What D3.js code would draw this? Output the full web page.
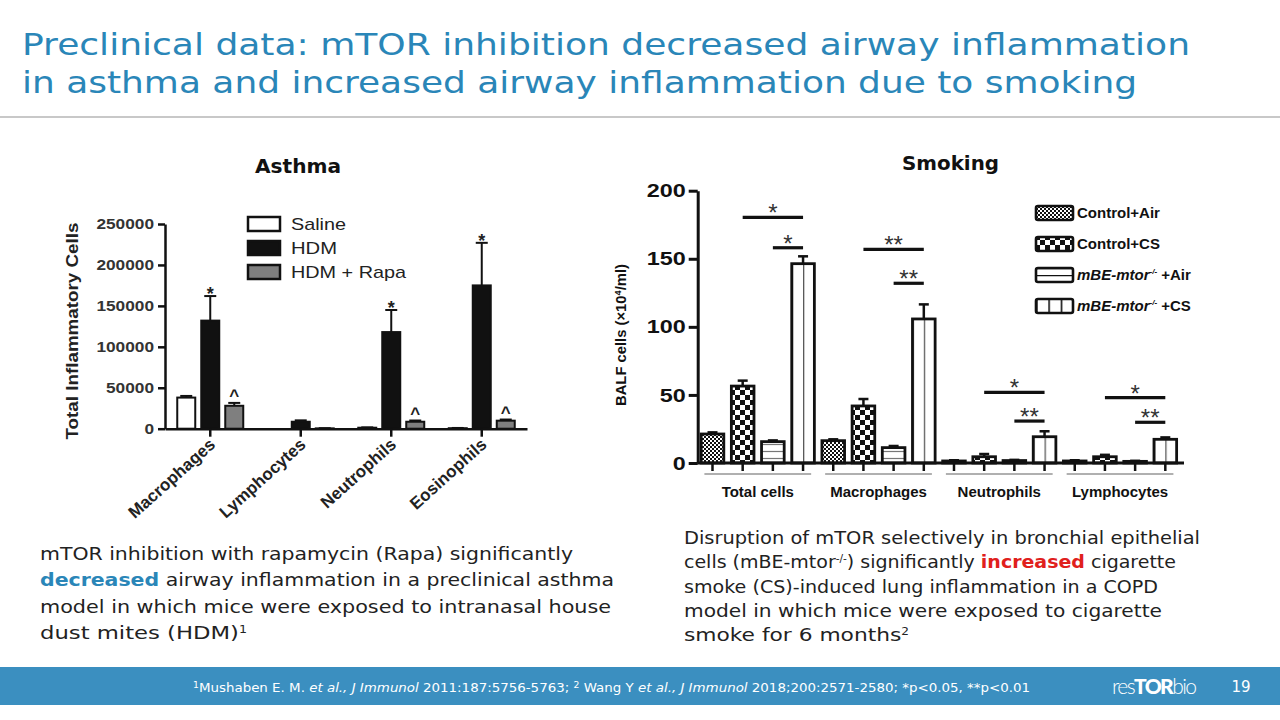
<!DOCTYPE html>
<html><head><meta charset="utf-8">
<script src="https://cdn.jsdelivr.net/npm/d3@7"></script>
<style>body{margin:0;background:#fff}svg{display:block}</style>
</head><body>
<svg id="c" width="1280" height="720"></svg>
<script>
// ---------- DATA ----------
// Asthma chart (left)
const asthmaCategories = ["Macrophages", "Lymphocytes", "Neutrophils", "Eosinophils"];
const asthmaGroups = ["Saline", "HDM", "HDM + Rapa"];
const asthmaSaline = [38000, 0, 1200, 600];
const asthmaSalineErr = [40000, 0, 1600, 900];
const asthmaHDM = [132000, 8500, 118000, 175000];
const asthmaHDMErr = [162000, 10200, 145000, 227000];
const asthmaRapa = [28000, 400, 8500, 9800];
const asthmaRapaErr = [31500, 600, 10000, 11200];
const asthmaYTicks = [0, 50000, 100000, 150000, 200000, 250000];
const asthmaStars = ["Macrophages", "Neutrophils", "Eosinophils"];   // "*" on HDM
const asthmaCarets = ["Macrophages", "Neutrophils", "Eosinophils"];  // "^" on HDM + Rapa

// Smoking chart (right)
const smokeCategories = ["Total cells", "Macrophages", "Neutrophils", "Lymphocytes"];
const smokeGroups = ["Control+Air", "Control+CS", "mBE-mtor-/- +Air", "mBE-mtor-/- +CS"];
const ctrlAir = [21.3, 16.4, 1.5, 1.5];
const ctrlAirErr = [22.5, 17.4, 2.0, 2.0];
const ctrlCS = [56.5, 41.9, 4.6, 4.6];
const ctrlCSErr = [60.5, 47.0, 6.6, 6.0];
const mbeAir = [15.7, 11.3, 1.8, 1.2];
const mbeAirErr = [16.6, 12.5, 2.3, 1.6];
const mbeCS = [146.4, 105.8, 19.3, 17.4];
const mbeCSErr = [151.8, 116.5, 23.3, 18.8];
const smokeYTicks = [0, 50, 100, 150, 200];
const sigCats = ["Total cells", "Total cells", "Macrophages", "Macrophages", "Neutrophils", "Neutrophils", "Lymphocytes", "Lymphocytes"];
const sigFrom = ["Control+CS", "mBE-mtor-/- +Air", "Control+CS", "mBE-mtor-/- +Air", "Control+CS", "mBE-mtor-/- +Air", "Control+CS", "mBE-mtor-/- +Air"];
const sigTo = ["mBE-mtor-/- +CS", "mBE-mtor-/- +CS", "mBE-mtor-/- +CS", "mBE-mtor-/- +CS", "mBE-mtor-/- +CS", "mBE-mtor-/- +CS", "mBE-mtor-/- +CS", "mBE-mtor-/- +CS"];
const sigLevel = [180.4, 158.1, 156.9, 132.0, 51.9, 30.8, 48.0, 29.9];
const sigLabel = ["*", "*", "**", "**", "*", "**", "*", "**"];

// ---------- DRAW ----------
const svg = d3.select("#c");
const SLIDE = "'DejaVu Sans', 'Open Sans', sans-serif";
const CHART = "'Liberation Sans', Arial, sans-serif";
const BLUE = "#2a86b8";

// patterns
const defs = svg.append("defs");
function pat(id, w, h, units) {
  return defs.append("pattern").attr("id", id).attr("width", w).attr("height", h)
    .attr("patternUnits", units || "userSpaceOnUse");
}
let p = pat("pFine", 4, 4);
p.append("rect").attr("width", 4).attr("height", 4).attr("fill", "#fff");
p.append("rect").attr("width", 2).attr("height", 2).attr("fill", "#111");
p.append("rect").attr("x", 2).attr("y", 2).attr("width", 2).attr("height", 2).attr("fill", "#111");
p = pat("pCheck", 10, 10);
p.append("rect").attr("width", 10).attr("height", 10).attr("fill", "#fff");
p.append("rect").attr("width", 5).attr("height", 5).attr("fill", "#111");
p.append("rect").attr("x", 5).attr("y", 5).attr("width", 5).attr("height", 5).attr("fill", "#111");
p = pat("pH", 10, 7);
p.append("rect").attr("width", 10).attr("height", 7).attr("fill", "#fff");
p.append("line").attr("x1", 0).attr("x2", 10).attr("y1", 3.5).attr("y2", 3.5).attr("stroke", "#777").attr("stroke-width", 1.2);
p = pat("pV", 0.5, 1, "objectBoundingBox");
p.append("rect").attr("width", 200).attr("height", 1000).attr("fill", "#fff");
p.append("line").attr("x1", 0.6).attr("x2", 0.6).attr("y1", 0).attr("y2", 1000).attr("stroke", "#555").attr("stroke-width", 1.3);
p = pat("pVLeg", 1 / 3, 1, "objectBoundingBox");
p.append("rect").attr("width", 200).attr("height", 1000).attr("fill", "#fff");
p.append("line").attr("x1", 0.6).attr("x2", 0.6).attr("y1", 0).attr("y2", 1000).attr("stroke", "#111").attr("stroke-width", 2);
p = pat("pHLeg", 1, 0.5, "objectBoundingBox");
p.append("rect").attr("width", 200).attr("height", 1000).attr("fill", "#fff");
p.append("line").attr("x1", 0).attr("x2", 200).attr("y1", 0.6).attr("y2", 0.6).attr("stroke", "#111").attr("stroke-width", 1.5);

// title
const titleLines = ["Preclinical data: mTOR inhibition decreased airway inflammation",
  "in asthma and increased airway inflammation due to smoking"];
const titleWidths = [1168, 1115];
titleLines.forEach((t, i) => {
  svg.append("text").attr("x", 22).attr("y", 55 + i * 38).attr("font-family", SLIDE)
    .attr("font-size", 31).attr("fill", BLUE).attr("textLength", titleWidths[i])
    .attr("lengthAdjust", "spacingAndGlyphs").text(t);
});
svg.append("line").attr("x1", 0).attr("x2", 1280).attr("y1", 117).attr("y2", 117)
  .attr("stroke", "#c8c8c8").attr("stroke-width", 2);

// section headers
svg.append("text").attr("x", 255).attr("y", 173).attr("font-family", SLIDE).attr("font-weight", 700)
  .attr("font-size", 20).attr("fill", "#111").attr("textLength", 86).attr("lengthAdjust", "spacingAndGlyphs").text("Asthma");
svg.append("text").attr("x", 902).attr("y", 170).attr("font-family", SLIDE).attr("font-weight", 700)
  .attr("font-size", 20).attr("fill", "#111").attr("textLength", 97).attr("lengthAdjust", "spacingAndGlyphs").text("Smoking");

// ---------- LEFT CHART ----------
const lg = svg.append("g");
const ly = d3.scaleLinear().domain([0, 250000]).range([428.7, 224]);
const lx0 = d3.scaleBand().domain(asthmaCategories).range([165, 527]).padding(0);
const lx1 = d3.scaleBand().domain(asthmaGroups)
  .range([lx0.bandwidth() / 2 - 36, lx0.bandwidth() / 2 + 36]).paddingInner(0.25).paddingOuter(0.125);
const asthmaFill = {"Saline": "#fff", "HDM": "#111", "HDM + Rapa": "#7f7f7f"};
const asthmaSeries = [
  {key: "Saline", v: asthmaSaline, e: asthmaSalineErr},
  {key: "HDM", v: asthmaHDM, e: asthmaHDMErr},
  {key: "HDM + Rapa", v: asthmaRapa, e: asthmaRapaErr}];

asthmaSeries.forEach(s => {
  asthmaCategories.forEach((c, i) => {
    const x = lx0(c) + lx1(s.key), w = lx1.bandwidth(), cx = x + w / 2;
    if (s.e[i] > s.v[i]) {
      lg.append("line").attr("x1", cx).attr("x2", cx).attr("y1", ly(s.v[i])).attr("y2", ly(s.e[i]))
        .attr("stroke", "#111").attr("stroke-width", 2);
      lg.append("line").attr("x1", cx - 6).attr("x2", cx + 6).attr("y1", ly(s.e[i])).attr("y2", ly(s.e[i]))
        .attr("stroke", "#111").attr("stroke-width", 2);
    }
    if (s.v[i] > 0) {
      lg.append("rect").attr("x", x).attr("y", ly(s.v[i])).attr("width", w)
        .attr("height", ly(0) - ly(s.v[i])).attr("fill", asthmaFill[s.key])
        .attr("stroke", "#111").attr("stroke-width", 2);
    }
  });
});
asthmaStars.forEach(c => {
  const i = asthmaCategories.indexOf(c);
  lg.append("text").attr("x", lx0(c) + lx1("HDM") + lx1.bandwidth() / 2).attr("y", ly(asthmaHDMErr[i]) + 4)
    .attr("text-anchor", "middle").attr("font-family", CHART).attr("font-weight", 700).attr("font-size", 18)
    .attr("fill", "#222").text("*");
});
asthmaCarets.forEach(c => {
  const i = asthmaCategories.indexOf(c);
  lg.append("text").attr("x", lx0(c) + lx1("HDM + Rapa") + lx1.bandwidth() / 2).attr("y", ly(asthmaRapaErr[i]) - 2)
    .attr("text-anchor", "middle").attr("font-family", CHART).attr("font-weight", 700).attr("font-size", 17)
    .attr("fill", "#222").text("^");
});

const lYAxis = lg.append("g").attr("transform", "translate(165,0)")
  .call(d3.axisLeft(ly).tickValues(asthmaYTicks).tickSize(7).tickSizeOuter(0).tickFormat(d3.format("d")));
lYAxis.select(".domain").attr("stroke", "#111").attr("stroke-width", 2.5);
lYAxis.selectAll(".tick line").attr("stroke", "#111").attr("stroke-width", 2.5);
lYAxis.selectAll(".tick text").attr("x", -11).attr("font-family", CHART).attr("font-weight", 700)
  .attr("font-size", 15).attr("fill", "#333")
  .each(function () { const t = d3.select(this); t.attr("textLength", t.text().length * 9.6).attr("lengthAdjust", "spacingAndGlyphs"); });

const lXAxis = lg.append("g").attr("transform", "translate(0,428.7)")
  .call(d3.axisBottom(lx0).tickSize(8).tickSizeOuter(0).tickFormat(""));
lXAxis.select(".domain").attr("stroke", "#111").attr("stroke-width", 2.5);
lXAxis.selectAll(".tick line").attr("stroke", "#111").attr("stroke-width", 2.5);
asthmaCategories.forEach(c => {
  const cx = lx0(c) + lx0.bandwidth() / 2;
  lg.append("text").attr("transform", `translate(${cx + 6},${446}) rotate(-42)`).attr("text-anchor", "end")
    .attr("font-family", CHART).attr("font-weight", 700).attr("font-size", 17).attr("fill", "#222").text(c);
});
lg.append("text").attr("transform", "translate(78,331) rotate(-90)").attr("text-anchor", "middle")
  .attr("font-family", CHART).attr("font-weight", 700).attr("font-size", 17).attr("fill", "#222")
  .attr("textLength", 217).attr("lengthAdjust", "spacingAndGlyphs").text("Total Inflammatory Cells");

// left legend
const lLegW = [55, 46, 115];
asthmaGroups.forEach((g, i) => {
  const y = 217 + i * 24;
  lg.append("rect").attr("x", 248).attr("y", y).attr("width", 32).attr("height", 14)
    .attr("fill", asthmaFill[g]).attr("stroke", "#111").attr("stroke-width", 2.5);
  lg.append("text").attr("x", 291).attr("y", y + 13).attr("font-family", CHART).attr("font-size", 17)
    .attr("fill", "#222").attr("textLength", lLegW[i]).attr("lengthAdjust", "spacingAndGlyphs").text(g);
});

// ---------- RIGHT CHART ----------
const rg = svg.append("g");
const ry = d3.scaleLinear().domain([0, 200]).range([463, 190.7]);
const rx0 = d3.scaleBand().domain(smokeCategories).range([697.4, 1180.4]).padding(0);
const rx1 = d3.scaleBand().domain(smokeGroups).range([0, rx0.bandwidth()]).paddingInner(0.25).paddingOuter(0.125);
const smokeFill = {"Control+Air": "url(#pFine)", "Control+CS": "url(#pCheck)",
  "mBE-mtor-/- +Air": "url(#pH)", "mBE-mtor-/- +CS": "url(#pV)"};
const smokeLegFill = {"Control+Air": "url(#pFine)", "Control+CS": "url(#pCheck)",
  "mBE-mtor-/- +Air": "url(#pHLeg)", "mBE-mtor-/- +CS": "url(#pVLeg)"};
const smokeSeries = [
  {key: smokeGroups[0], v: ctrlAir, e: ctrlAirErr},
  {key: smokeGroups[1], v: ctrlCS, e: ctrlCSErr},
  {key: smokeGroups[2], v: mbeAir, e: mbeAirErr},
  {key: smokeGroups[3], v: mbeCS, e: mbeCSErr}];

smokeSeries.forEach(s => {
  smokeCategories.forEach((c, i) => {
    const x = rx0(c) + rx1(s.key), w = rx1.bandwidth(), cx = x + w / 2;
    rg.append("line").attr("x1", cx).attr("x2", cx).attr("y1", ry(s.v[i])).attr("y2", ry(s.e[i]))
      .attr("stroke", "#111").attr("stroke-width", 2.5);
    rg.append("line").attr("x1", cx - 5).attr("x2", cx + 5).attr("y1", ry(s.e[i])).attr("y2", ry(s.e[i]))
      .attr("stroke", "#111").attr("stroke-width", 2.5);
    rg.append("rect").attr("x", x).attr("y", ry(s.v[i])).attr("width", w)
      .attr("height", ry(0) - ry(s.v[i])).attr("fill", smokeFill[s.key])
      .attr("stroke", "#111").attr("stroke-width", 2.8);
  });
});

// significance lines
sigCats.forEach((c, i) => {
  const x1 = rx0(c) + rx1(sigFrom[i]) + rx1.bandwidth() / 2;
  const x2 = rx0(c) + rx1(sigTo[i]) + rx1.bandwidth() / 2;
  const y = ry(sigLevel[i]);
  rg.append("line").attr("x1", x1).attr("x2", x2).attr("y1", y).attr("y2", y)
    .attr("stroke", "#111").attr("stroke-width", 3.2);
  rg.append("text").attr("x", (x1 + x2) / 2).attr("y", y + 4).attr("text-anchor", "middle")
    .attr("font-family", CHART).attr("font-size", 24).attr("fill", "#333").text(sigLabel[i]);
});

const rYAxis = rg.append("g").attr("transform", "translate(697.7,0)")
  .call(d3.axisLeft(ry).tickValues(smokeYTicks).tickSize(9).tickSizeOuter(0));
rYAxis.select(".domain").attr("stroke", "#111").attr("stroke-width", 3);
rYAxis.selectAll(".tick line").attr("stroke", "#111").attr("stroke-width", 3);
rYAxis.selectAll(".tick text").attr("x", -12).attr("font-family", CHART).attr("font-weight", 700)
  .attr("font-size", 19).attr("fill", "#111")
  .each(function () { const t = d3.select(this); t.attr("textLength", t.text().length * 13).attr("lengthAdjust", "spacingAndGlyphs"); });

const rXAxis = rg.append("g").attr("transform", "translate(0,463)");
rXAxis.append("line").attr("x1", 697.4).attr("x2", 1184).attr("y1", 0).attr("y2", 0)
  .attr("stroke", "#111").attr("stroke-width", 3);
smokeCategories.forEach(c => {
  const a = d3.axisBottom(rx1).tickSize(8).tickSizeOuter(0).tickFormat("");
  const g = rXAxis.append("g").attr("transform", `translate(${rx0(c)},0)`).call(a);
  g.select(".domain").remove();
  g.selectAll(".tick line").attr("stroke", "#111").attr("stroke-width", 2.5);
  rg.append("line").attr("x1", rx0(c) + 7).attr("x2", rx0(c) + rx0.bandwidth() - 7)
    .attr("y1", 474).attr("y2", 474).attr("stroke", "#b0b0b0").attr("stroke-width", 2);
  rg.append("text").attr("x", rx0(c) + rx0.bandwidth() / 2).attr("y", 497).attr("text-anchor", "middle")
    .attr("font-family", CHART).attr("font-weight", 700).attr("font-size", 15).attr("fill", "#111").text(c);
});
const yl = rg.append("text").attr("transform", "translate(626,335) rotate(-90)").attr("text-anchor", "middle")
  .attr("font-family", CHART).attr("font-weight", 700).attr("font-size", 14.5).attr("fill", "#111")
  .attr("textLength", 142).attr("lengthAdjust", "spacingAndGlyphs");
yl.append("tspan").text("BALF cells (\u00D710");
yl.append("tspan").attr("font-size", 9).attr("dy", -5).text("4");
yl.append("tspan").attr("dy", 5).text("/ml)");

// right legend
smokeGroups.forEach((g, i) => {
  const cy = 213 + i * 31;
  rg.append("rect").attr("x", 1036).attr("y", cy - 7).attr("width", 37).attr("height", 14).attr("rx", 2)
    .attr("fill", smokeLegFill[g]).attr("stroke", "#111").attr("stroke-width", 2.6);
  const t = rg.append("text").attr("x", 1077).attr("y", cy + 5).attr("font-family", CHART)
    .attr("font-weight", 700).attr("font-size", 15).attr("fill", "#111");
  if (g.startsWith("mBE")) {
    t.append("tspan").attr("font-style", "italic").text("mBE-mtor");
    t.append("tspan").attr("font-size", 8).attr("dy", -6).attr("font-style", "italic").text("-/-");
    t.append("tspan").attr("dy", 6).text(" " + g.split(" ")[1]);
  } else {
    t.text(g);
  }
});

// ---------- TEXT BLOCKS ----------
function para(x, y0, lh, lines, widths, color) {
  lines.forEach((parts, i) => {
    const t = svg.append("text").attr("x", x).attr("y", y0 + i * lh).attr("font-family", SLIDE)
      .attr("font-size", 18).attr("fill", "#222").attr("textLength", widths[i]).attr("lengthAdjust", "spacingAndGlyphs");
    parts.forEach(pt => {
      const s = t.append("tspan").text(pt.t);
      if (pt.b) s.attr("font-weight", 700).attr("fill", color);
      if (pt.sup) s.attr("font-size", 10).attr("dy", -6);
      if (pt.after) s.attr("dy", 6);
    });
  });
}
para(40, 560, 26.3, [
  [{t: "mTOR inhibition with rapamycin (Rapa) significantly"}],
  [{t: "decreased", b: 1}, {t: " airway inflammation in a preclinical asthma"}],
  [{t: "model in which mice were exposed to intranasal house"}],
  [{t: "dust mites (HDM)"}, {t: "1", sup: 1}]
], [533, 574, 571, 207], BLUE);
para(684, 544, 24.3, [
  [{t: "Disruption of mTOR selectively in bronchial epithelial"}],
  [{t: "cells (mBE-mtor"}, {t: "-/-", sup: 1}, {t: ") significantly ", after: 1}, {t: "increased", b: 1}, {t: " cigarette"}],
  [{t: "smoke (CS)-induced lung inflammation in a COPD"}],
  [{t: "model in which  mice were exposed to cigarette"}],
  [{t: "smoke for 6 months"}, {t: "2", sup: 1}]
], [516, 492, 474, 478, 225], "#e0201c");

// ---------- FOOTER ----------
svg.append("rect").attr("x", 0).attr("y", 667).attr("width", 1280).attr("height", 38).attr("fill", "#3b8fc0");
const ft = svg.append("text").attr("x", 193).attr("y", 692).attr("font-family", SLIDE).attr("font-size", 13)
  .attr("fill", "#fff").attr("textLength", 837).attr("lengthAdjust", "spacingAndGlyphs");
[
  {t: "1", sup: 1}, {t: "Mushaben E. M. ", after: 1}, {t: "et al., J Immunol", i: 1}, {t: " 2011:187:5756-5763; "},
  {t: "2", sup: 1}, {t: " Wang Y ", after: 1}, {t: "et al., J Immunol", i: 1}, {t: " 2018;200:2571-2580; *p<0.05, **p<0.01"}
].forEach(pt => {
  const s = ft.append("tspan").text(pt.t);
  if (pt.i) s.attr("font-style", "italic");
  if (pt.sup) s.attr("font-size", 9).attr("dy", -4);
  if (pt.after) s.attr("dy", 4);
});
const logo = svg.append("text").attr("x", 1112).attr("y", 694).attr("font-family", "Lato, 'Open Sans', sans-serif")
  .attr("font-size", 21).attr("fill", "#fff").attr("textLength", 85).attr("lengthAdjust", "spacing");
logo.append("tspan").attr("font-weight", 300).text("res");
logo.append("tspan").attr("font-weight", 900).text("TOR");
logo.append("tspan").attr("font-weight", 300).text("bio");
svg.append("text").attr("x", 1241).attr("y", 692).attr("text-anchor", "middle").attr("font-family", SLIDE)
  .attr("font-size", 15).attr("fill", "#fff").text("19");
</script>
</body></html>
